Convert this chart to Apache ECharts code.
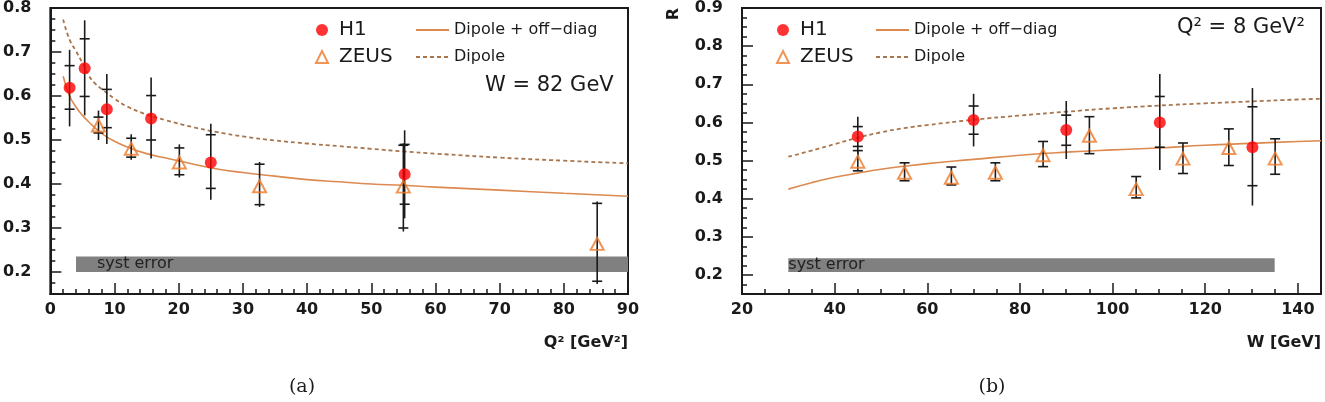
<!DOCTYPE html>
<html>
<head>
<meta charset="UTF-8">
<title>R vs Q2 and W</title>
<style>
html, body { margin: 0; padding: 0; background: #fff; }
#chart { width: 1325px; height: 402px; }
</style>
</head>
<body>
<div id="chart"></div>
<script src="https://cdn.jsdelivr.net/npm/echarts/dist/echarts.min.js"></script>
<script type="text/javascript">
// ---- panel (a): R vs Q2 at W = 82 GeV ----
var q2H1 = [3.0, 5.35, 8.8, 15.7, 25.0, 55.2];
var rH1a = [0.619, 0.663, 0.570, 0.549, 0.449, 0.422];
var statLoH1a = [0.570, 0.599, 0.528, 0.500, 0.390, 0.354];
var statHiH1a = [0.669, 0.730, 0.615, 0.601, 0.512, 0.490];
var totLoH1a = [0.531, 0.556, 0.491, 0.458, 0.364, 0.322];
var totHiH1a = [0.705, 0.772, 0.650, 0.642, 0.537, 0.522];

var q2ZEUS = [7.5, 12.6, 20.1, 32.6, 55.0, 85.2];
var rZEUSa = [0.533, 0.480, 0.449, 0.395, 0.394, 0.264];
var statLoZa = [0.516, 0.461, 0.421, 0.353, 0.300, 0.179];
var statHiZa = [0.552, 0.504, 0.482, 0.445, 0.488, 0.356];
var totLoZa = [0.500, 0.455, 0.415, 0.348, 0.292, 0.173];
var totHiZa = [0.567, 0.513, 0.490, 0.450, 0.492, 0.360];

var q2Curve = [2, 3, 4, 5, 6, 7, 8, 10, 12, 15, 18, 22, 26, 30, 35, 40, 45, 50, 55, 60, 70, 80, 90];
var offDiagA = [0.645, 0.600, 0.575, 0.556, 0.541, 0.527, 0.515, 0.497, 0.484, 0.469, 0.459, 0.446, 0.434, 0.426, 0.418, 0.410, 0.405, 0.400, 0.397, 0.393, 0.386, 0.379, 0.372];
var dipoleA = [0.774, 0.728, 0.702, 0.675, 0.646, 0.628, 0.616, 0.594, 0.576, 0.558, 0.545, 0.530, 0.518, 0.508, 0.499, 0.492, 0.486, 0.480, 0.474, 0.469, 0.460, 0.453, 0.447];

var systXa = [4, 90];
var systYa = [0.200, 0.235];

var q2Ticks = [0, 10, 20, 30, 40, 50, 60, 70, 80, 90];
var rTicksA = [0.2, 0.3, 0.4, 0.5, 0.6, 0.7, 0.8];

// ---- panel (b): R vs W at Q2 = 8 GeV2 ----
var wH1 = [45, 70, 90, 110.2, 130.2];
var rH1b = [0.563, 0.606, 0.580, 0.600, 0.535];
var statLoH1b = [0.537, 0.569, 0.540, 0.535, 0.434];
var statHiH1b = [0.589, 0.643, 0.619, 0.668, 0.641];
var totLoH1b = [0.510, 0.537, 0.504, 0.475, 0.382];
var totHiH1b = [0.615, 0.675, 0.656, 0.727, 0.690];

var wZEUS = [45, 55.1, 65.2, 74.7, 85, 95, 105.1, 115.2, 125.1, 135.1];
var rZEUSb = [0.497, 0.468, 0.455, 0.468, 0.514, 0.565, 0.425, 0.505, 0.533, 0.505];
var errLoZb = [0.473, 0.447, 0.436, 0.447, 0.484, 0.518, 0.402, 0.466, 0.487, 0.464];
var errHiZb = [0.526, 0.494, 0.483, 0.494, 0.550, 0.615, 0.458, 0.546, 0.583, 0.557];

var wCurve = [30, 35, 40, 45, 50, 55, 60, 70, 80, 90, 100, 110, 120, 130, 140, 145];
var offDiagB = [0.425, 0.442, 0.456, 0.467, 0.477, 0.485, 0.492, 0.503, 0.514, 0.522, 0.528, 0.533, 0.540, 0.545, 0.550, 0.552];
var dipoleB = [0.510, 0.526, 0.543, 0.560, 0.574, 0.585, 0.593, 0.607, 0.618, 0.628, 0.637, 0.644, 0.650, 0.655, 0.660, 0.662];

var systXb = [30, 135];
var systYb = [0.208, 0.244];

var wTicks = [20, 40, 60, 80, 100, 120, 140];
var rTicksB = [0.2, 0.3, 0.4, 0.5, 0.6, 0.7, 0.8, 0.9];

var RED = '#ff0000';
var ORANGE = '#ec7a2c';
var SOLID = '#dc8a50';
var DASH = '#a8754c';
var INK = '#1a1a1a';
var SANS = 'DejaVu Sans';

function zip() {
	var cols = arguments, out = [];
	for (var i = 0; i < cols[0].length; i++) {
		var row = [];
		for (var j = 0; j < cols.length; j++) row.push(cols[j][i]);
		out.push(row);
	}
	return out;
}

// error bar: [x, y, statLo, statHi, totLo, totHi]
function errRender(params, api) {
	var x = api.value(0);
	var c = api.coord([x, api.value(1)]);
	var sLo = api.coord([x, api.value(2)])[1], sHi = api.coord([x, api.value(3)])[1];
	var tLo = api.coord([x, api.value(4)])[1], tHi = api.coord([x, api.value(5)])[1];
	var w = 5, st = { stroke: INK, lineWidth: 1.6 };
	return {
		type: 'group',
		children: [
			{ type: 'line', shape: { x1: c[0], y1: tLo, x2: c[0], y2: tHi }, style: st },
			{ type: 'line', shape: { x1: c[0] - w, y1: sLo, x2: c[0] + w, y2: sLo }, style: st },
			{ type: 'line', shape: { x1: c[0] - w, y1: sHi, x2: c[0] + w, y2: sHi }, style: st }
		]
	};
}

function bandRender(textDx) {
	return function (params, api) {
		var p0 = api.coord([api.value(0), api.value(3)]);
		var p1 = api.coord([api.value(1), api.value(2)]);
		return {
			type: 'group',
			children: [
				{ type: 'rect', shape: { x: p0[0], y: p0[1], width: p1[0] - p0[0], height: p1[1] - p0[1] },
				  style: { fill: '#808080' } },
				{ type: 'text', x: p0[0] + textDx, y: (p0[1] + p1[1]) / 2,
				  style: { text: 'syst error', fill: '#222', font: '16px "DejaVu Sans"', verticalAlign: 'middle' } }
			]
		};
	};
}

// ticks point into the plot: negative length, not "inside"
function minorAxis(grid, min, max, step, isX) {
	return {
		type: 'value', gridIndex: grid, min: min, max: max, interval: step,
		position: isX ? 'bottom' : 'left',
		axisLine: { show: true, lineStyle: { color: INK, width: 2 } },
		axisTick: { show: true, inside: false, length: -5, lineStyle: { color: INK, width: 1.5 } },
		axisLabel: { show: false },
		splitLine: { show: false }
	};
}

function majorAxis(grid, min, max, ticks, isX, digits) {
	return {
		type: 'value', gridIndex: grid, min: min, max: max,
		position: isX ? 'bottom' : 'left',
		axisLine: { show: false },
		axisTick: { show: true, inside: false, length: -11, customValues: ticks, lineStyle: { color: INK, width: 1.5 } },
		axisLabel: {
			show: true, customValues: ticks, margin: isX ? 8 : 19,
			color: INK, fontFamily: SANS, fontWeight: 'bold', fontSize: 16,
			formatter: function (v) { return v.toFixed(digits); }
		},
		splitLine: { show: false }
	};
}

var myChart = echarts.init(document.getElementById('chart'));

function panelSeries(p, d) {
	var xi = p * 2, yi = p * 2;
	return [
		{ name: 'syst' + p, type: 'custom', xAxisIndex: xi, yAxisIndex: yi, z: 1, silent: true,
		  renderItem: bandRender(d.textDx), data: [[d.systX[0], d.systX[1], d.systY[0], d.systY[1]]] },
		{ name: 'Dipole + off\u2212diag', type: 'line', xAxisIndex: xi, yAxisIndex: yi, z: 2,
		  smooth: true, symbol: 'none', lineStyle: { color: SOLID, width: 1.6 }, itemStyle: { color: SOLID },
		  data: zip(d.curveX, d.offDiag) },
		{ name: 'Dipole', type: 'line', xAxisIndex: xi, yAxisIndex: yi, z: 2,
		  smooth: true, symbol: 'none', lineStyle: { color: DASH, width: 1.8, type: [4, 3] }, itemStyle: { color: DASH },
		  data: zip(d.curveX, d.dipole) },
		{ name: 'H1 err' + p, type: 'custom', xAxisIndex: xi, yAxisIndex: yi, z: 3,
		  renderItem: errRender, data: zip(d.h1X, d.h1Y, d.h1SLo, d.h1SHi, d.h1TLo, d.h1THi) },
		{ name: 'ZEUS err' + p, type: 'custom', xAxisIndex: xi, yAxisIndex: yi, z: 3,
		  renderItem: errRender, data: zip(d.zX, d.zY, d.zSLo, d.zSHi, d.zTLo, d.zTHi) },
		{ name: 'ZEUS', type: 'scatter', xAxisIndex: xi, yAxisIndex: yi, z: 4,
		  symbol: 'triangle', symbolSize: [13, 12],
		  itemStyle: { color: 'rgba(255,255,255,0)', borderColor: ORANGE, borderWidth: 2 },
		  data: zip(d.zX, d.zY) },
		{ name: 'H1', type: 'scatter', xAxisIndex: xi, yAxisIndex: yi, z: 5,
		  symbol: 'circle', symbolSize: 12, itemStyle: { color: RED },
		  data: zip(d.h1X, d.h1Y) }
	];
}

var seriesA = panelSeries(0, {
	textDx: 21, systX: systXa, systY: systYa,
	curveX: q2Curve, offDiag: offDiagA, dipole: dipoleA,
	h1X: q2H1, h1Y: rH1a, h1SLo: statLoH1a, h1SHi: statHiH1a, h1TLo: totLoH1a, h1THi: totHiH1a,
	zX: q2ZEUS, zY: rZEUSa, zSLo: statLoZa, zSHi: statHiZa, zTLo: totLoZa, zTHi: totHiZa
});
var seriesB = panelSeries(1, {
	textDx: 0, systX: systXb, systY: systYb,
	curveX: wCurve, offDiag: offDiagB, dipole: dipoleB,
	h1X: wH1, h1Y: rH1b, h1SLo: statLoH1b, h1SHi: statHiH1b, h1TLo: totLoH1b, h1THi: totHiH1b,
	zX: wZEUS, zY: rZEUSb, zSLo: errLoZb, zSHi: errHiZb, zTLo: errLoZb, zTHi: errHiZb
});

function dataLegend(left) {
	return { data: ['H1', 'ZEUS'], orient: 'vertical', left: left, top: 15, itemWidth: 12, itemHeight: 12, itemGap: 7,
		selectedMode: false, textStyle: { fontFamily: SANS, fontSize: 20, color: INK, padding: [0, 0, 0, 6] } };
}
function curveLegend(left) {
	return { data: ['Dipole + off\u2212diag', 'Dipole'], orient: 'vertical', left: left, top: 17, itemWidth: 33, itemHeight: 12,
		itemGap: 11, selectedMode: false, itemStyle: { opacity: 0 },
		textStyle: { fontFamily: SANS, fontSize: 16, color: INK } };
}

function label(x, y, text, font, extra) {
	var g = { type: 'text', x: x, y: y, style: { text: text, font: font, fill: INK, verticalAlign: 'middle' } };
	for (var k in extra) g[k] = extra[k];
	if (extra && extra.align) g.style.align = extra.align;
	delete g.align;
	return g;
}

var option = {
	animation: false,
	grid: [
		{ left: 50, top: 5, width: 578, height: 289, show: true, borderColor: INK, borderWidth: 2 },
		{ left: 742, top: 5, width: 579, height: 289, show: true, borderColor: INK, borderWidth: 2 }
	],
	xAxis: [
		minorAxis(0, 0, 90, 2, true), majorAxis(0, 0, 90, q2Ticks, true, 0),
		minorAxis(1, 20, 145, 5, true), majorAxis(1, 20, 145, wTicks, true, 0)
	],
	yAxis: [
		minorAxis(0, 0.15, 0.8, 0.025, false), majorAxis(0, 0.15, 0.8, rTicksA, false, 1),
		minorAxis(1, 0.15, 0.9, 0.025, false), majorAxis(1, 0.15, 0.9, rTicksB, false, 1)
	],
	legend: [dataLegend(310), curveLegend(410), dataLegend(771), curveLegend(870)],
	graphic: [
		label(485, 86, 'W = 82 GeV', '21px "DejaVu Sans"'),
		label(1177, 28, 'Q\u00b2 = 8 GeV\u00b2', '21px "DejaVu Sans"'),
		label(628, 343, 'Q\u00b2 [GeV\u00b2]', 'bold 16px "DejaVu Sans"', { align: 'right' }),
		label(1321, 343, 'W [GeV]', 'bold 16px "DejaVu Sans"', { align: 'right' }),
		label(674, 14, 'R', 'bold 16px "DejaVu Sans"', { rotation: Math.PI / 2, align: 'center' }),
		label(302, 387, '(a)', '19px "DejaVu Serif"', { align: 'center' }),
		label(992, 387, '(b)', '19px "DejaVu Serif"', { align: 'center' })
	],
	series: seriesA.concat(seriesB)
};
myChart.setOption(option);
</script>
</body>
</html>
